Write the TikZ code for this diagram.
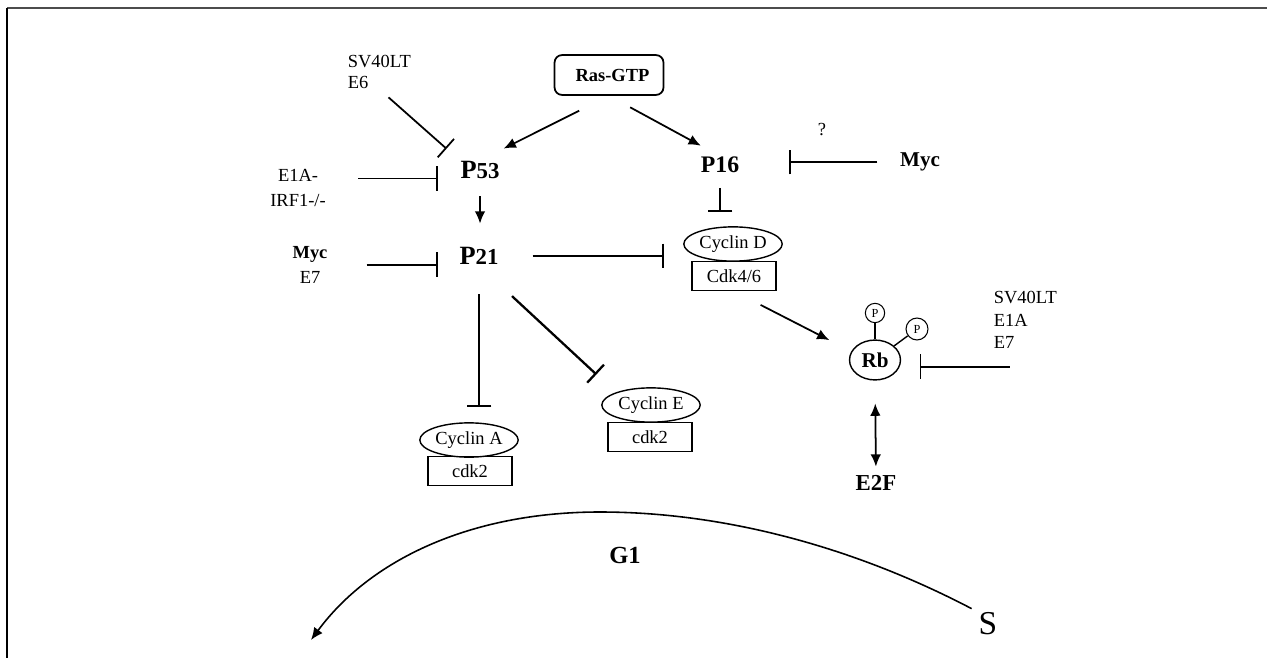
\documentclass[tikz,border=0pt]{standalone}
\usepackage{fontspec}
\setmainfont{Liberation Serif}
\usetikzlibrary{arrows.meta,shapes.geometric}

\begin{document}
\begin{tikzpicture}[x=0.02cm,y=-0.02cm,line width=1pt]
    % `activate' is used for arrows, `inhibit' for blunt-ended lines.
    % `cyclin' and `cdk' are the two halves of each complex.
    % `txt' is used for the small plain labels, `factor' for the bold ones.
    \tikzstyle{activate} = [-{Latex[length=7pt,width=6pt]}]
    \tikzstyle{inhibit} = [-{Bar[width=14pt]}]
    \tikzstyle{txt} = [inner sep=0pt,font=\fontsize{10.5}{14}\selectfont]
    \tikzstyle{factor} = [inner sep=0pt,font=\bfseries\fontsize{15}{17}\selectfont]
    \tikzstyle{cyclin} = [draw,ellipse,inner sep=0pt,line width=0.8pt,minimum width=56pt,minimum height=19.5pt,font=\fontsize{10.5}{12}\selectfont]
    \tikzstyle{cdk} = [draw,inner sep=0pt,line width=0.8pt,minimum width=48pt,minimum height=16.6pt,font=\fontsize{10.5}{12}\selectfont]
    \tikzstyle{phos} = [draw,circle,inner sep=0pt,minimum size=11pt,line width=0.6pt,font=\fontsize{7}{8}\selectfont]
    %
    \useasboundingbox (0,0) rectangle (1267,658);
    % Frame.
    \draw[line width=1.6pt,black!70] (7,8) -- (1267,8);
    \draw[line width=0.6pt] (7,8) -- (7,658);
    %
    \node[draw,rounded corners=1.5mm,minimum width=62pt,minimum height=22.7pt,font=\bfseries\fontsize{10.5}{12}\selectfont] (ras) at (609,75) {\hspace{4pt}Ras-GTP};
    \node[txt,anchor=west,align=left,font=\fontsize{10.5}{11.5}\selectfont] (sv) at (347,72) {SV40LT\\E6};
    \node[factor] (p53) at (480,170) {P{\fontsize{13}{15}\selectfont 53}};
    \node[txt,align=center] (e1a) at (298,188) {E1A-\\IRF1-/-};
    \node[factor] (p21) at (479,256) {P{\fontsize{13}{15}\selectfont 21}};
    \node[txt,align=center] (myc1) at (310,265) {\textbf{Myc}\\E7};
    \node[factor,font=\bfseries\fontsize{13.5}{15}\selectfont] (p16) at (720,165) {P16};
    \node[txt] (q) at (822,130) {?};
    \node[factor,font=\bfseries\fontsize{12}{14}\selectfont] (myc2) at (920,162) {Myc};
    % Complexes.
    \node[cyclin] (cycd) at (733,244) {Cyclin D};
    \node[cdk] (cdk46) at (734,276) {Cdk4/6};
    \node[cyclin] (cyca) at (469,440) {Cyclin A};
    \node[cdk] (cdk2a) at (470,471) {cdk2};
    \node[cyclin] (cyce) at (651,405) {Cyclin E};
    \node[cdk] (cdk2e) at (650,437) {cdk2};
    % Rb and its phosphates.
    \node[draw,ellipse,inner sep=0pt,line width=0.8pt,minimum width=29pt,minimum height=22.7pt,font=\bfseries\fontsize{12}{14}\selectfont] (rb) at (875,360) {Rb};
    \node[phos] (ph1) at (875,313) {P};
    \node[phos,minimum size=12.5pt] (ph2) at (917,329) {P};
    \node[txt,anchor=west,align=left,font=\fontsize{10.5}{12.8}\selectfont] (rlab) at (993,320) {SV40LT\\E1A\\E7};
    \node[factor,font=\bfseries\fontsize{13}{15}\selectfont] (e2f) at (876,483) {E2F};
    % Cell cycle.
    \node[inner sep=0pt,font=\bfseries\fontsize{14}{16}\selectfont] (g1) at (625,555) {G1};
    \node[inner sep=0pt,font=\fontsize{19}{21}\selectfont] (s) at (988,624) {S};
    \coordinate (g1top) at (600,512);
    \coordinate (g1end) at (311,640);
    %
    % Draw connectors.
    \draw[activate,shorten <=19pt,shorten >=15pt] (ras.south) -- (p53.north);
    \draw[activate,shorten <=13.7pt,shorten >=12.4pt] (ras.south) -- (p16.north);
    \draw[inhibit,shorten <=7pt,shorten >=10pt] (sv.south) -- (p53.north west);
    \draw[inhibit,shorten <=18pt,shorten >=12.5pt] (e1a.east |- p53.base) -- (p53.base west);
    \draw[activate,shorten <=9.6pt,shorten >=13pt] (p53.south) -- (p53.south |- p21.north);
    \draw[inhibit,shorten <=21.8pt,shorten >=12pt] (myc1.east |- p21.base) -- (p21.base west);
    \draw[inhibit,shorten <=19pt,shorten >=10.8pt] (p21.east) -- (p21 -| cycd.west);
    \draw[inhibit,shorten <=8pt,shorten >=8pt] (p16.south) -- (p16.south |- cycd.north);
    \draw[inhibit,shorten <=12.5pt,shorten >=28pt] (myc2.west) -- (myc2.west -| p16.east);
    \draw[activate,shorten <=17pt,shorten >=14pt] (cdk46.south) -- (rb.160);
    \draw[inhibit,shorten <=-9.6pt,shorten >=11.3pt] (rlab.west |- rb.-15) -- (rb.-15);
    \draw[line width=0.8pt] (ph1) -- (rb);
    \draw[line width=0.8pt] (rb) -- (ph2);
    \draw[{Latex[length=7pt,width=6pt]}-{Latex[length=7pt,width=6pt]},shorten <=13pt,shorten >=4.5pt] (rb.south) -- (e2f.north);
    \draw[inhibit,shorten <=16.4pt,shorten >=8.5pt] (p21.south) -- (p21.south |- cyca.north);
    \draw[inhibit,line width=1.3pt,shorten <=25.6pt,shorten >=15pt] (p21.south) -- (cyce.north west);
    \draw[activate,line width=0.9pt,shorten <=4pt] (s.north west) .. controls (850,545) and (720,512) .. (g1top)
        .. controls (470,512) and (370,560) .. (g1end);
\end{tikzpicture}
\end{document}
